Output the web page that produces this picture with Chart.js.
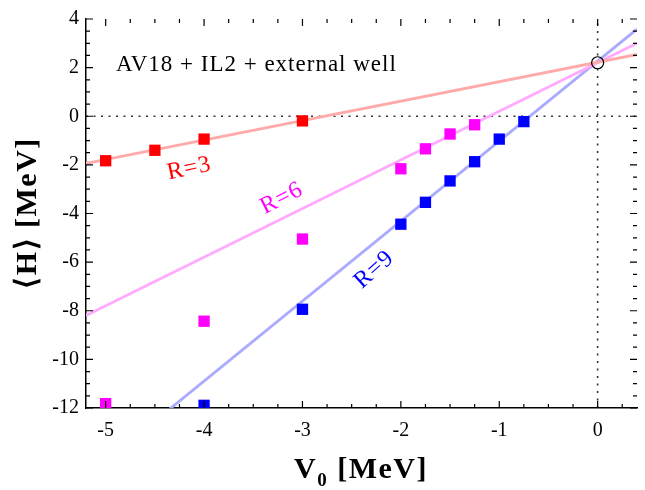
<!DOCTYPE html>
<html lang="en">
<head>
<meta charset="UTF-8" />
<title>H vs V0</title>
<script src="https://cdn.jsdelivr.net/npm/chart.js"></script>
<style>
  body { margin: 0; background: #fff; }
</style>
</head>
<body>
<canvas id="chart" width="645" height="490"></canvas>
<script>
// measured points
const r3X = [-5, -4.5, -4, -3];
const r3Y = [-1.83, -1.40, -0.94, -0.19];
const r6X = [-5, -4, -3, -2, -1.75, -1.5, -1.25];
const r6Y = [-11.82, -8.43, -5.05, -2.16, -1.34, -0.73, -0.35];
const r9X = [-4, -3, -2, -1.75, -1.5, -1.25, -1, -0.75];
const r9Y = [-11.89, -7.94, -4.44, -3.54, -2.66, -1.87, -0.94, -0.22];
const limX = [0];
const limY = [2.2];

// fit lines (end points at the x range limits)
const fitX = [-5.2, 0.4];
const fitR3 = [-1.94, 2.54];
const fitR6 = [-8.2, 3.0];
const fitR9 = [-14.84, 3.58];

// ticks
const xTicks = [-5, -4, -3, -2, -1, 0];
const yTicks = [-12, -10, -8, -6, -4, -2, 0, 2, 4];

const pts = (xs, ys) => xs.map((x, i) => ({ x: x, y: ys[i] }));

const serif = '"Liberation Serif"';

// inward ticks on all four sides + text labels
const decor = {
  id: 'decor',
  afterDraw(chart) {
    const ctx = chart.ctx;
    const a = chart.chartArea;
    const xs = chart.scales.x, ys = chart.scales.y;
    ctx.save();
    ctx.strokeStyle = '#000';
    ctx.lineWidth = 1.2;
    ctx.beginPath();
    for (let v = -5.0; v <= 0.4001; v += 0.25) {
      const px = xs.getPixelForValue(v);
      const len = Math.abs(v - Math.round(v)) < 1e-6 ? 7 : 4;
      ctx.moveTo(px, a.bottom); ctx.lineTo(px, a.bottom - len);
      ctx.moveTo(px, a.top); ctx.lineTo(px, a.top + len);
    }
    for (let v = -12; v <= 4.0001; v += 0.5) {
      const py = ys.getPixelForValue(v);
      const len = Math.abs(v / 2 - Math.round(v / 2)) < 1e-6 ? 7 : 4;
      ctx.moveTo(a.left, py); ctx.lineTo(a.left + len, py);
      ctx.moveTo(a.right, py); ctx.lineTo(a.right - len, py);
    }
    ctx.stroke();

    // annotations
    ctx.fillStyle = '#000';
    ctx.font = '23px ' + serif;
    ctx.letterSpacing = '1px';
    ctx.textBaseline = 'alphabetic';
    ctx.textAlign = 'left';
    ctx.fillText('AV18 + IL2 + external well', xs.getPixelForValue(-4.895), ys.getPixelForValue(1.87));

    const label = (txt, x, y, ang, col) => {
      ctx.save();
      ctx.translate(xs.getPixelForValue(x), ys.getPixelForValue(y));
      ctx.rotate(ang * Math.PI / 180);
      ctx.fillStyle = col;
      ctx.font = '24px ' + serif;
      ctx.letterSpacing = '1px';
      ctx.textAlign = 'center';
      ctx.textBaseline = 'middle';
      ctx.fillText(txt, 0, 0);
      ctx.restore();
    };
    label('R=3', -4.15, -2.16, -12, '#ff0000');
    label('R=6', -3.21, -3.38, -27, '#ff00ff');
    label('R=9', -2.27, -6.31, -42, '#0000ff');

    // axis titles
    ctx.fillStyle = '#000';
    ctx.textAlign = 'left';
    ctx.textBaseline = 'alphabetic';
    ctx.letterSpacing = '1.5px';
    let x = 294;
    ctx.font = 'bold 30px ' + serif;
    ctx.fillText('V', x, 478);
    x += ctx.measureText('V').width;
    ctx.font = 'bold 19px ' + serif;
    ctx.fillText('0', x, 486);
    x += ctx.measureText('0').width;
    ctx.font = 'bold 30px ' + serif;
    ctx.fillText(' [MeV]', x, 478);

    ctx.save();
    ctx.translate(36, 213);
    ctx.rotate(-Math.PI / 2);
    ctx.textAlign = 'center';
    ctx.font = 'bold 30px ' + serif;
    ctx.fillText('\u27E8H\u27E9 [MeV]', 0, 0);
    ctx.restore();
    ctx.restore();
  }
};

const square = (data, col) => ({
  data: data,
  pointStyle: 'rect',
  pointRadius: 8,
  pointHoverRadius: 8,
  backgroundColor: col,
  borderColor: col,
  borderWidth: 0,
  showLine: false,
  order: 0
});

const fit = (ys, col) => ({
  data: pts(fitX, ys),
  showLine: true,
  borderColor: col,
  borderWidth: 2.8,
  pointRadius: 0,
  clip: 0,
  order: 2
});

function build() {
  new Chart(document.getElementById('chart'), {
    type: 'scatter',
    data: {
      datasets: [
        square(pts(r3X, r3Y), '#ff0000'),
        square(pts(r6X, r6Y), '#ff00ff'),
        square(pts(r9X, r9Y), '#0000ff'),
        {
          data: pts(limX, limY),
          pointStyle: 'circle',
          pointRadius: 6,
          backgroundColor: 'rgba(0,0,0,0)',
          borderColor: '#000',
          borderWidth: 1.2,
          order: 0
        },
        fit(fitR3, '#ffaaaa'),
        fit(fitR6, '#ffaaff'),
        fit(fitR9, '#aaaaff'),
        {
          data: pts(fitX, [0, 0]),
          showLine: true, borderColor: '#333', borderWidth: 1.6, borderDash: [2, 5.5],
          pointRadius: 0, clip: 0, order: 3
        },
        {
          data: pts([0, 0], [-12, 4]),
          showLine: true, borderColor: '#333', borderWidth: 1.6, borderDash: [2, 5.5],
          pointRadius: 0, clip: 0, order: 3
        }
      ]
    },
    options: {
      responsive: false,
      animation: false,
      layout: { padding: { top: 15, right: 7, left: 0, bottom: 0 } },
      plugins: { legend: { display: false }, tooltip: { enabled: false } },
      scales: {
        x: {
          type: 'linear',
          min: -5.2,
          max: 0.4,
          afterBuildTicks: s => { s.ticks = xTicks.map(v => ({ value: v })); },
          afterFit: s => { s.height = 82; },
          grid: { display: false, drawTicks: false },
          border: { color: '#000', width: 1.5 },
          ticks: { color: '#000', padding: 11, maxRotation: 0, font: { family: serif, size: 20 } }
        },
        y: {
          type: 'linear',
          min: -12,
          max: 4,
          afterBuildTicks: s => { s.ticks = yTicks.map(v => ({ value: v })); },
          afterFit: s => { s.width = 86; },
          grid: { display: false, drawTicks: false },
          border: { color: '#000', width: 1.5 },
          ticks: { color: '#000', padding: 7, font: { family: serif, size: 20 } }
        }
      }
    },
    plugins: [decor]
  });
}

Promise.all([
  document.fonts.load('20px "Liberation Serif"'),
  document.fonts.load('bold 30px "Liberation Serif"')
]).then(build, build);
</script>
</body>
</html>
